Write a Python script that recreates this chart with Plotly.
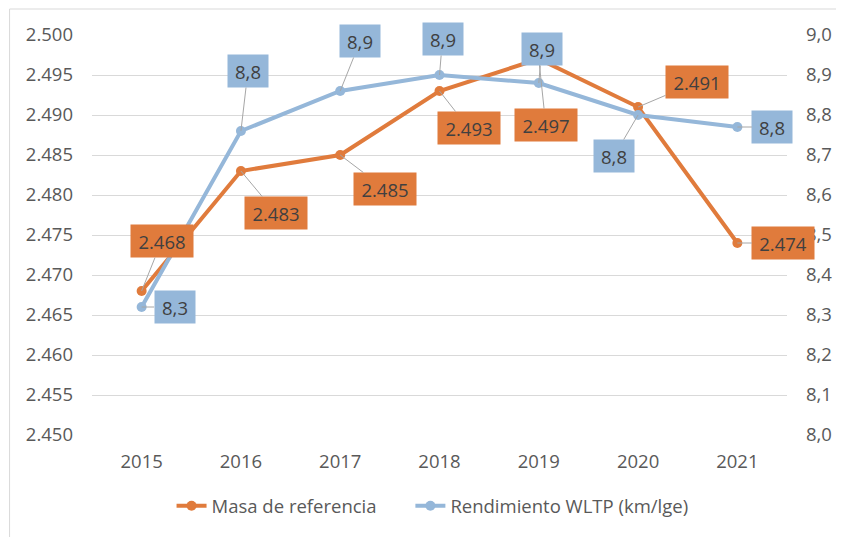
import plotly.graph_objects as go

years = ["2015", "2016", "2017", "2018", "2019", "2020", "2021"]
masa = [2468, 2483, 2485, 2493, 2497, 2491, 2474]
rendimiento = [8.32, 8.76, 8.86, 8.90, 8.88, 8.80, 8.77]
left_ticks = [2450, 2455, 2460, 2465, 2470, 2475, 2480, 2485, 2490, 2495, 2500]
right_ticks = [8.0, 8.1, 8.2, 8.3, 8.4, 8.5, 8.6, 8.7, 8.8, 8.9, 9.0]

ORANGE = "#E07B3C"
BLUE = "#95B7D9"
TEXT = "#404040"
TICK = "#595959"
GRID = "#D9D9D9"
FONT = "Open Sans"
FS = 18.5

# label offsets (pixels) of callouts relative to their points
masa_off = [(20, -50), (35, 42), (45, 34), (29, 37), (7, 66), (59, -25), (46, 0)]
rend_off = [(33, 0), (7, -60), (20, -50), (3, -36), (3, -34), (-24, 41), (35, 0)]

fig = go.Figure()
fig.add_trace(go.Scatter(
    x=years, y=masa, name="Masa de referencia" + "\u00a0" * 6, mode="lines+markers",
    line=dict(color=ORANGE, width=4), marker=dict(color=ORANGE, size=10),
    yaxis="y"))
fig.add_trace(go.Scatter(
    x=years, y=rendimiento, name="Rendimiento WLTP (km/lge)", mode="lines+markers",
    line=dict(color=BLUE, width=4), marker=dict(color=BLUE, size=10),
    yaxis="y2"))

annotations = []
for i, (v, (dx, dy)) in enumerate(zip(masa, masa_off)):
    annotations.append(dict(
        x=i, y=v, xref="x", yref="y", text=f"{v:,}".replace(",", "."),
        showarrow=True, arrowhead=0, arrowwidth=1, arrowcolor="#A6A6A6",
        ax=dx, ay=dy, standoff=0, bgcolor=ORANGE, width=62, height=32,
        borderpad=0, font=dict(family=FONT, size=FS, color=TEXT)))
for i, (v, (dx, dy)) in enumerate(zip(rendimiento, rend_off)):
    annotations.append(dict(
        x=i, y=v, xref="x", yref="y2", text=f"{v:.1f}".replace(".", ","),
        showarrow=True, arrowhead=0, arrowwidth=1, arrowcolor="#A6A6A6",
        ax=dx, ay=dy, standoff=0, bgcolor=BLUE, width=40, height=32,
        borderpad=0, font=dict(family=FONT, size=FS, color=TEXT)))

fig.update_layout(
    width=836, height=529,
    margin=dict(l=84, r=52, t=27, b=102),
    paper_bgcolor="white", plot_bgcolor="white",
    separators=",.",
    font=dict(family=FONT, size=FS, color=TICK),
    showlegend=True,
    legend=dict(orientation="h", x=0.49, xanchor="center", y=-0.178, yanchor="middle",
                font=dict(family=FONT, size=FS, color=TICK)),
    xaxis=dict(type="category", range=[-0.5, 6.5], showgrid=False, showline=False,
               ticks="", tickfont=dict(family=FONT, size=FS, color=TICK),
               ticklabelstandoff=13, fixedrange=True),
    yaxis=dict(range=[2450, 2500], tickvals=left_ticks, tickformat=",d",
               showgrid=True, gridcolor=GRID, gridwidth=1, zeroline=False,
               showline=False, ticks="", ticklabelstandoff=18,
               tickfont=dict(family=FONT, size=FS, color=TICK)),
    yaxis2=dict(range=[8.0, 9.0], tickvals=right_ticks, tickformat=".1f",
                overlaying="y", side="right", showgrid=False, zeroline=False,
                showline=False, ticks="", ticklabelstandoff=18,
                tickfont=dict(family=FONT, size=FS, color=TICK)),
    annotations=annotations,
    shapes=[dict(type="rect", xref="paper", yref="paper",
                 x0=-0.1186, x1=1.1, y0=-0.3, y1=1.065,
                 line=dict(color=GRID, width=1), fillcolor="rgba(0,0,0,0)", layer="below")],
)

fig.write_html("out.html")
